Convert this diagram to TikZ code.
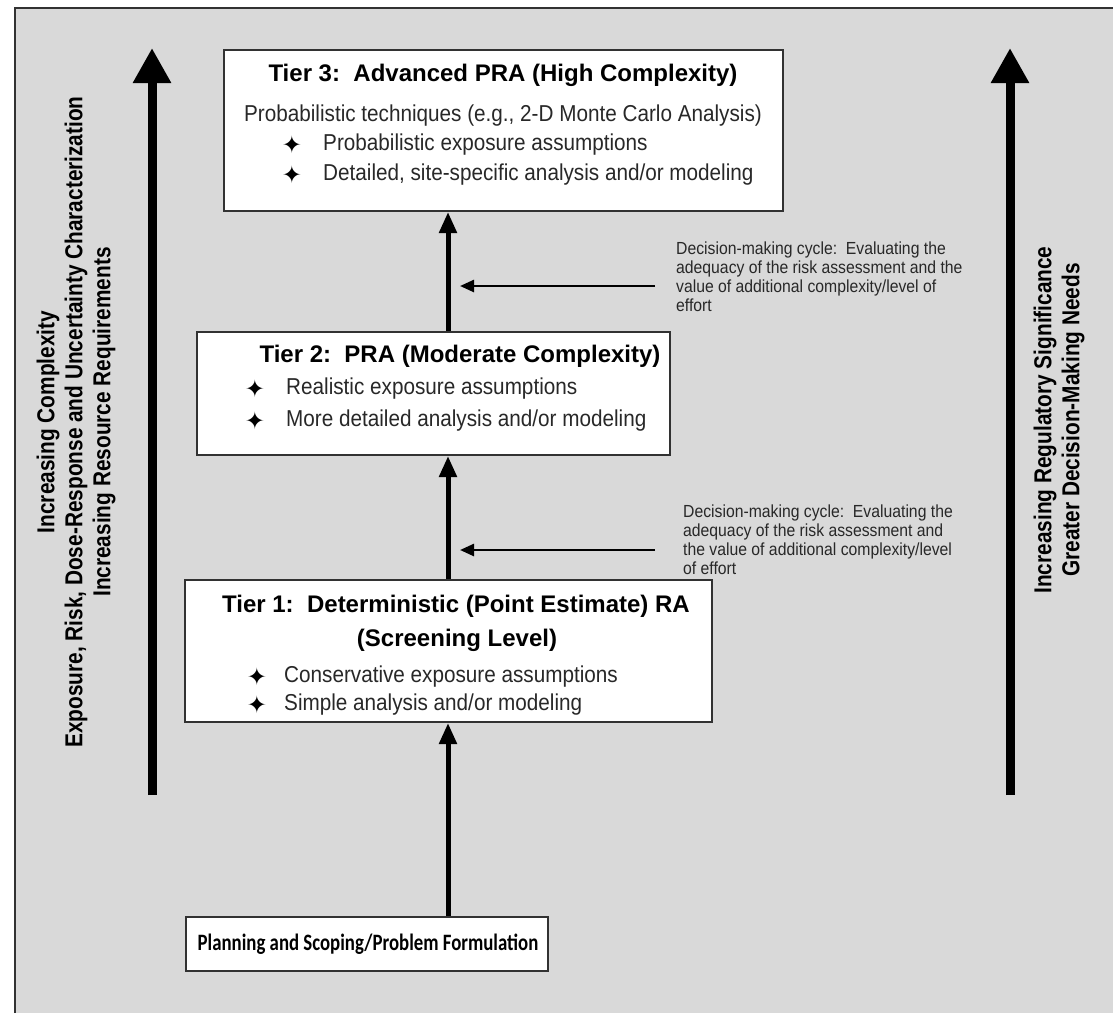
\documentclass[tikz,border=0pt]{standalone}
\usepackage{fontspec}
\setmainfont{Liberation Sans}
\newfontfamily\sidefont{Liberation Sans}[FakeStretch=0.85]
\newfontfamily\bodyfont{Liberation Sans}[FakeStretch=0.9]
\newfontfamily\planfont{Carlito}[FakeStretch=0.8]
\newfontfamily\starfont{DejaVu Sans}
\usetikzlibrary{arrows.meta}
\definecolor{bggray}{RGB}{217,217,217}
\definecolor{framec}{RGB}{50,50,50}
\definecolor{txt}{RGB}{40,40,40}
\begin{document}
\begin{tikzpicture}[x=1pt,y=-1pt,
  tierbox/.style={draw=framec, line width=2pt, fill=white, inner sep=0pt},
  titletext/.style={font=\bfseries\fontsize{24}{28}\selectfont, text=black, inner sep=0pt, text height=17pt, text depth=5pt},
  bodytext/.style={font=\bodyfont\fontsize{23}{26}\selectfont, text=txt, inner sep=0pt, text height=16pt, text depth=5pt},
  itemtext/.style={bodytext, anchor=west},
  startext/.style={font=\starfont\fontsize{24}{26}\selectfont, text=black, inner sep=0pt},
  notetext/.style={font=\bodyfont\fontsize{17.5}{19}\selectfont, text=txt, inner sep=0pt, align=left, anchor=north west},
  sidetext/.style={font=\sidefont\bfseries\fontsize{24.5}{28}\selectfont, text=black, rotate=90, align=center, inner sep=0pt},
  bigarrow/.style={line width=9pt, -{Triangle[width=36pt,length=35pt]}},
  linkarrow/.style={line width=5pt, -{Triangle[width=17pt,length=21pt]}},
  notearrow/.style={line width=2.5pt, -{Triangle[width=12pt,length=14pt]}},
]
\useasboundingbox (0,0) rectangle (1113,1013);
\fill[white] (0,0) rectangle (1113,1013);
\fill[bggray] (15,8) rectangle (1113,1013);
\draw[framec, line width=2.5pt] (15,1013) -- (15,8) -- (1113,8);

% big side arrows
\coordinate (la0) at (152,795); \coordinate (la1) at (152,48);
\coordinate (ra0) at (1010,795); \coordinate (ra1) at (1010,48);
\draw[bigarrow] (la0) -- (la1);
\draw[bigarrow] (ra0) -- (ra1);

\node[sidetext] (lefttext) at (76,422) {Increasing Complexity\\Exposure, Risk, Dose-Response and Uncertainty Characterization\\Increasing Resource Requirements};
\node[sidetext] (righttext) at (1059,420) {Increasing Regulatory Significance\\Greater Decision-Making Needs};

% boxes
\node[tierbox, minimum width=559pt, minimum height=161pt] (t3) at (503.5,130.5) {};
\node[tierbox, minimum width=473pt, minimum height=123pt] (t2) at (433.5,393.5) {};
\node[tierbox, minimum width=527pt, minimum height=142pt] (t1) at (448.5,651) {};
\node[tierbox, minimum width=362pt, minimum height=54pt] (plan) at (367,944) {};

% tier 3 content
\node[titletext] (t3title) at (503,75) {Tier 3:\ \ Advanced PRA (High Complexity)};
\node[bodytext] (t3sub) at (503,116) {Probabilistic techniques (e.g., 2-D Monte Carlo Analysis)};
\node[startext] (t3s1) at (292,145) {✦};
\node[startext] (t3s2) at (292,175) {✦};
\node[itemtext] (t3i1) at (323,145) {Probabilistic exposure assumptions};
\node[itemtext] (t3i2) at (323,175) {Detailed, site-specific analysis and/or modeling};

% tier 2 content
\node[titletext] (t2title) at (460,356) {Tier 2:\ \ PRA (Moderate Complexity)};
\node[startext] (t2s1) at (255,389) {✦};
\node[startext] (t2s2) at (255,421) {✦};
\node[itemtext] (t2i1) at (286,389) {Realistic exposure assumptions};
\node[itemtext] (t2i2) at (286,421) {More detailed analysis and/or modeling};

% tier 1 content
\node[titletext] (t1title) at (456,606) {Tier 1:\ \ Deterministic (Point Estimate) RA};
\node[titletext] (t1title2) at (457,640) {(Screening Level)};
\node[startext] (t1s1) at (257,677) {✦};
\node[startext] (t1s2) at (257,705) {✦};
\node[itemtext] (t1i1) at (284,677) {Conservative exposure assumptions};
\node[itemtext] (t1i2) at (284,705) {Simple analysis and/or modeling};

% planning
\node[font=\planfont\bfseries\fontsize{23.5}{28}\selectfont, inner sep=0pt] (plantext) at (368,944) {Planning and Scoping/Problem Formulation};

% connectors
\coordinate (ax) at (448,0);
\draw[linkarrow] (t2.north -| ax) -- (t3.south -| ax);
\draw[linkarrow] (t1.north -| ax) -- (t2.south -| ax);
\draw[linkarrow] (plan.north -| ax) -- (t1.south -| ax);

% decision notes
\coordinate (d1a) at (655,286); \coordinate (d1b) at (460,286);
\coordinate (d2a) at (655,550); \coordinate (d2b) at (460,550);
\draw[notearrow] (d1a) -- (d1b);
\draw[notearrow] (d2a) -- (d2b);
\node[notetext] (n1) at (676,242) {Decision-making cycle:\ \ Evaluating the\\adequacy of the risk assessment and the\\value of additional complexity/level of\\effort};
\node[notetext] (n2) at (683,505) {Decision-making cycle:\ \ Evaluating the\\adequacy of the risk assessment and\\the value of additional complexity/level\\of effort};
\end{tikzpicture}
\end{document}
